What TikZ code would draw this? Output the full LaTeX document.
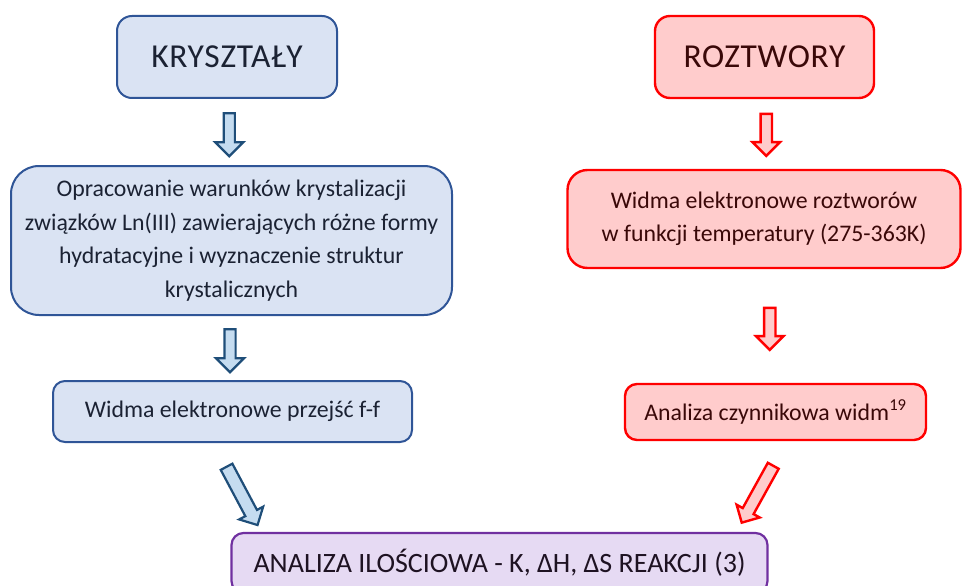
\documentclass[tikz,border=0pt]{standalone}
\usepackage{fontspec}
\setmainfont{Carlito}
\usetikzlibrary{shapes.arrows,calc}
\definecolor{bfill}{HTML}{DAE3F3}
\definecolor{bdraw}{HTML}{2F5597}
\definecolor{btext}{HTML}{1B2233}
\definecolor{bafill}{HTML}{C5DCF0}
\definecolor{badraw}{HTML}{1F4E79}
\definecolor{rfill}{HTML}{FFCCCC}
\definecolor{rdraw}{HTML}{FF0000}
\definecolor{rtext}{HTML}{3A0808}
\definecolor{pfill}{HTML}{E6DAF3}
\definecolor{pdraw}{HTML}{7030A0}
\definecolor{ptext}{HTML}{1E1222}
\begin{document}
\begin{tikzpicture}[x=1pt,y=-1pt,
  box/.style={draw, inner sep=0pt, align=center, anchor=center},
  bluebox/.style={box, fill=bfill, draw=bdraw, line width=2pt, text=btext},
  redbox/.style={box, fill=rfill, draw=rdraw, line width=2.4pt, text=rtext},
  purplebox/.style={box, fill=pfill, draw=pdraw, line width=2.2pt, text=ptext},
  headfont/.style={font=\fontsize{33.5}{40}\selectfont\addfontfeature{LetterSpace=2}},
  bodyfont/.style={font=\fontsize{23.8}{33.5}\selectfont},
  barrow/.style={single arrow, draw=badraw, fill=bafill, line width=2.2pt,
    inner sep=4.5pt, single arrow head extend=8.5pt, minimum width=1pt, minimum height=43pt},
  rarrow/.style={single arrow, draw=rdraw, fill=rfill, line width=2.4pt,
    inner sep=4.5pt, single arrow head extend=8pt, minimum width=1pt, minimum height=42pt}
]
\useasboundingbox (0,0) rectangle (962,586);

\node[bluebox, headfont, rounded corners=15pt, minimum width=220pt, minimum height=82pt] (k) at (227,57) {KRYSZTAŁY};
\node[redbox, headfont, rounded corners=15pt, minimum width=219pt, minimum height=82pt] (r) at (764.5,57) {ROZTWORY};

\node[bluebox, bodyfont, rounded corners=28pt, minimum width=441pt, minimum height=149pt] (o) at (231.5,240.5)
  {Opracowanie warunków krystalizacji\\związków Ln(III) zawierających różne formy\\hydratacyjne i wyznaczenie struktur\\krystalicznych};
\node[redbox, bodyfont, rounded corners=20pt, minimum width=393pt, minimum height=98pt] (e) at (764,219)
  {\fontsize{23.8}{35}\selectfont Widma elektronowe roztworów\\w funkcji temperatury (275-363K)};

\node[bluebox, bodyfont, rounded corners=12pt, minimum width=359pt, minimum height=61pt] (w) at (232.5,411.5)
  {Widma elektronowe przejść f-f};
\node[redbox, bodyfont, rounded corners=12pt, minimum width=301pt, minimum height=56pt] (c) at (775.5,412)
  {Analiza czynnikowa widm\textsuperscript{19}};

\node[purplebox, rounded corners=12pt, minimum width=536pt, minimum height=60pt,
  font=\fontsize{28}{32}\selectfont] (a) at (499.5,563)
  {ANALIZA ILOŚCIOWA - K, ΔH, ΔS REAKCJI (3)};

\node[barrow, rotate=-90] (a1) at ($(k.south)!0.5!(o.north)$) {};
\node[rarrow, rotate=-90] (a2) at ($(r.south)!0.5!(e.north)+(2,-2)$) {};
\node[barrow, rotate=-90] (a3) at ($(o.south)!0.5!(w.north)+(-2,0)$) {};
\node[rarrow, rotate=-90] (a4) at ($(e.south)!0.5!(c.north)$) {};
\node[barrow, rotate=-62, minimum height=66pt, inner sep=5.5pt, single arrow head extend=7pt] (a5) at (240.5,493) {};
\node[rarrow, rotate=-119, minimum height=65pt, inner sep=5pt, single arrow head extend=7pt] (a6) at (759,491.5) {};
\end{tikzpicture}
\end{document}
